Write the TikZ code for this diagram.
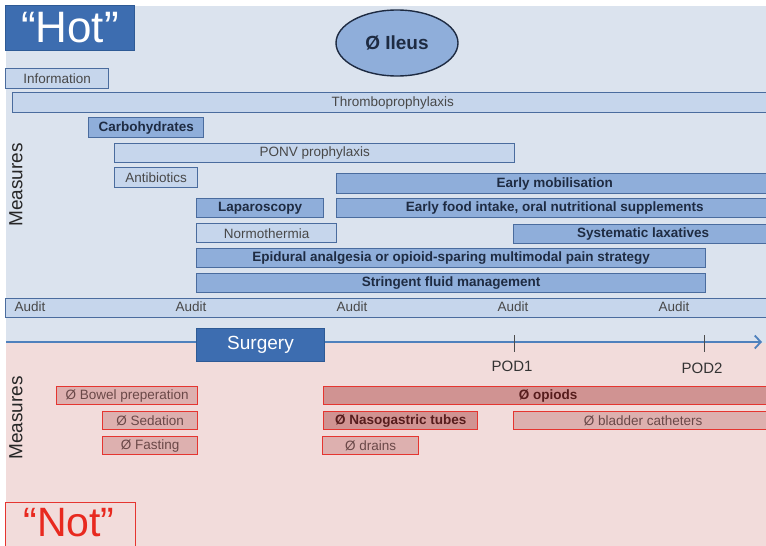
\documentclass[tikz,border=0pt]{standalone}
\usepackage{fontspec}
\setmainfont{Liberation Sans}
\usetikzlibrary{arrows.meta,shapes.geometric}

\definecolor{hotbg}{HTML}{DBE3EE}
\definecolor{notbg}{HTML}{F2DCDB}
\definecolor{hotfill}{HTML}{3D6DB0}
\definecolor{hotline}{HTML}{2E5A95}
\definecolor{lightfill}{HTML}{C6D6EC}
\definecolor{darkfill}{HTML}{8FAEDA}
\definecolor{boxline}{HTML}{4A6C9E}
\definecolor{lighttext}{HTML}{484848}
\definecolor{darktext}{HTML}{1E2B42}
\definecolor{axisblue}{HTML}{4F81BD}
\definecolor{redline}{HTML}{E53530}
\definecolor{pinklight}{HTML}{DDB0AF}
\definecolor{pinkdark}{HTML}{D09392}
\definecolor{pinktext}{HTML}{6A4848}
\definecolor{pinkbold}{HTML}{561C1C}
\definecolor{notred}{HTML}{E8291F}

\newcommand{\bodysize}{\fontsize{13.5}{15}\selectfont}

\tikzset{
  x=1pt, y=-1pt,
  bar/.style={anchor=north west, inner sep=0pt, line width=1.4pt, draw=boxline, font=\bodysize},
  lbox/.style={bar, fill=lightfill, text=lighttext},
  dbox/.style={bar, fill=darkfill, text=darktext, font=\bodysize\bfseries},
  pbox/.style={anchor=north west, inner sep=0pt, line width=1.4pt, draw=redline, fill=pinklight, text=pinktext, font=\bodysize},
  pdbox/.style={pbox, fill=pinkdark, text=pinkbold, font=\bodysize\bfseries},
  audit/.style={text=lighttext, font=\bodysize},
  sidelabel/.style={rotate=90, font=\fontsize{19}{21}\selectfont, text=black!85},
  podlabel/.style={font=\fontsize{15}{17}\selectfont, text=black!80},
  sz/.style 2 args={minimum width=#1pt, minimum height=#2pt},
}

\begin{document}
\begin{tikzpicture}
\useasboundingbox (0,0) rectangle (766,546);
\clip (0,0) rectangle (766,546);

% two halves of the timeline: measures to do and measures to avoid
\fill[hotbg] (6,6) rectangle (770,343);
\fill[notbg] (6,343) rectangle (770,550);

% headings
\node[anchor=north west, inner sep=0pt, sz={129}{45}, fill=hotfill, draw=hotline, line width=1pt,
      text=white, font=\fontsize{44}{46}\selectfont] (hot) at (5,5) {“Hot”};
\node[ellipse, draw=darktext, line width=1.4pt, fill=darkfill, minimum width=122pt, minimum height=66pt,
      inner sep=0pt, text=darktext, font=\fontsize{19}{21}\selectfont\bfseries] (ileus) at (397,43) {Ø Ileus};

% measures to do
\node[lbox, sz={103}{20}] (info) at (5,68) {Information};
\node[lbox, sz={760}{20}] (thrombo) at (12,92) {Thromboprophylaxis};
\node[dbox, sz={115}{20}] (carbo) at (88,117) {Carbohydrates};
\node[lbox, sz={400}{19}] (ponv) at (114,143) {PONV prophylaxis};
\node[lbox, sz={83}{20}] (antib) at (114,167) {Antibiotics};
\node[dbox, sz={436}{20}] (mobil) at (336,173) {Early mobilisation};
\node[dbox, sz={127}{19}] (lapar) at (196,198) {Laparoscopy};
\node[dbox, sz={436}{19}] (food) at (336,198) {Early food intake, oral nutritional supplements};
\node[lbox, sz={140}{19}] (normo) at (196,223) {Normothermia};
\node[dbox, sz={259}{19}] (laxat) at (513,224) {Systematic laxatives};
\node[dbox, sz={509}{19}] (epid) at (196,248) {Epidural analgesia or opioid-sparing multimodal pain strategy};
\node[dbox, sz={509}{19}] (fluid) at (196,273) {Stringent fluid management};

% audit bar
\node[lbox, sz={767}{19}] (auditbar) at (5,298) {};
\foreach \i/\xa in {1/30,2/191,3/352,4/513,5/674}
  \node[audit] (audit\i) at (\xa,307) {Audit};

\node[sidelabel] (meastop) at (16,185) {Measures};

% time axis
\coordinate (axstart) at (6,342);
\coordinate (axend) at (762,342);
\draw[axisblue, line width=1.8pt, -{Straight Barb[length=6pt, width=13pt, line width=1.8pt]}] (axstart) -- (axend);
\coordinate (pod1top) at (514,335);
\coordinate (pod1bot) at (514,352);
\coordinate (pod2top) at (704,335);
\coordinate (pod2bot) at (704,352);
\draw[black!70, line width=0.8pt] (pod1top) -- (pod1bot);
\draw[black!70, line width=0.8pt] (pod2top) -- (pod2bot);
\node[podlabel] (pod1) at (512,366) {POD1};
\node[podlabel] (pod2) at (702,368) {POD2};

\node[anchor=north west, inner sep=0pt, sz={128}{33}, fill=hotfill, draw=hotline, line width=1pt,
      text=white, font=\fontsize{19}{21}\selectfont] (surgery) at (196,328) {Surgery};

% measures to avoid
\node[sidelabel] (measbot) at (16,418) {Measures};
\node[pbox, sz={141}{18}] (bowel) at (56,386) {Ø Bowel preperation};
\node[pbox, sz={95}{18}] (sedat) at (102,411) {Ø Sedation};
\node[pbox, sz={95}{18}] (fast) at (102,436) {Ø Fasting};
\node[pdbox, sz={449}{18}] (opiods) at (323,386) {Ø opiods};
\node[pdbox, sz={154}{18}] (ngtube) at (323,411) {Ø Nasogastric tubes};
\node[pbox, sz={259}{18}] (bladder) at (513,411) {Ø bladder catheters};
\node[pbox, sz={96}{18}] (drains) at (322,436) {Ø drains};

% frame of the lower heading runs past the bottom edge; its text sits inside
\node[anchor=north west, inner sep=0pt, sz={130}{50}, draw=redline, line width=1.4pt] (notframe) at (5,502) {};
\node[anchor=base, inner sep=0pt, text=notred, font=\fontsize{41}{43}\selectfont] (not) at (69,536) {“Not”};
\end{tikzpicture}
\end{document}
